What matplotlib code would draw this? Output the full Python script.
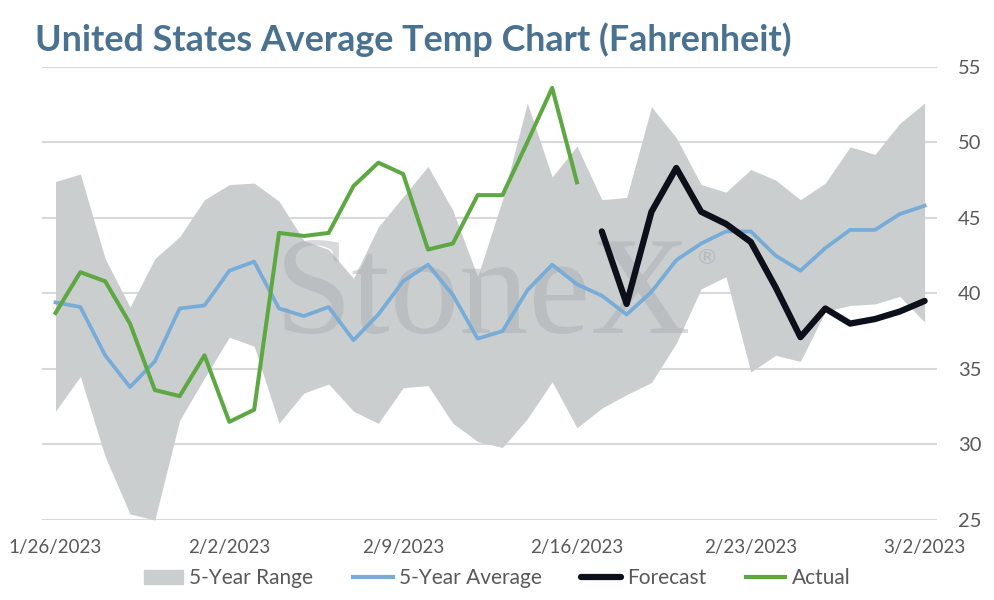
import numpy as np
import pandas as pd
import matplotlib
matplotlib.use("Agg")
import matplotlib.pyplot as plt
from matplotlib.patches import Patch
from matplotlib.lines import Line2D

# Daily series, 1/26/2023 .. 3/2/2023
dates = pd.date_range("2023-01-26", "2023-03-02", freq="D")
tick_labels = ["1/26/2023", "2/2/2023", "2/9/2023", "2/16/2023", "2/23/2023", "3/2/2023"]

range_high = [47.4, 47.9, 42.3, 39.1, 42.3, 43.75, 46.2, 47.2, 47.3, 46.1, 43.5, 42.9,
              41.0, 44.4, 46.4, 48.4, 45.5, 41.1, 46.2, 52.6, 47.7, 49.75, 46.2, 46.35,
              52.35, 50.3, 47.2, 46.7, 48.2, 47.5, 46.2, 47.3, 49.7, 49.2, 51.25, 52.6]
range_low = [32.2, 34.5, 29.2, 25.4, 25.0, 31.6, 34.4, 37.1, 36.5, 31.4, 33.4, 34.0,
             32.2, 31.4, 33.75, 33.9, 31.4, 30.2, 29.8, 31.7, 34.15, 31.1, 32.4, 33.3,
             34.1, 36.7, 40.3, 41.1, 34.8, 35.9, 35.5, 38.8, 39.2, 39.3, 39.8, 38.1]
avg_5yr = [39.4, 39.1, 35.9, 33.8, 35.5, 39.0, 39.2, 41.5, 42.1, 39.0, 38.5, 39.1,
           36.9, 38.6, 40.8, 41.9, 39.9, 37.0, 37.5, 40.2, 41.9, 40.6, 39.85, 38.6,
           40.1, 42.2, 43.3, 44.1, 44.1, 42.5, 41.5, 43.0, 44.2, 44.2, 45.25, 45.8]
actual = [38.7, 41.4, 40.8, 38.0, 33.6, 33.2, 35.9, 31.5, 32.3, 44.0, 43.8, 44.0,
          47.1, 48.65, 47.9, 42.9, 43.3, 46.5, 46.5, 50.0, 53.6, 47.35] + [np.nan] * 14
forecast = [np.nan] * 22 + [44.1, 39.3, 45.4, 48.3, 45.4, 44.6, 43.4, 40.4, 37.1,
                            39.0, 38.0, 38.3, 38.8, 39.5]

plt.rcParams['font.family'] = ['Lato', 'DejaVu Sans']

fig = plt.figure(figsize=(9.94, 6), dpi=100)
ax = fig.add_axes([0.0423, 0.1333, 0.9004, 0.7555])

ax.fill_between(dates, range_low, range_high, color="#cbcecf", linewidth=0, zorder=1)
ax.plot(dates, avg_5yr, color="#78acd8", lw=2.7, zorder=4)
ax.plot(dates, forecast, color="#0b101a", lw=4.5, zorder=5, solid_capstyle="round")
ax.plot(dates, actual, color="#5ea843", lw=2.9, zorder=4)

# watermark
ax.text(0.26, 0.412, "StoneX", transform=ax.transAxes, fontsize=100,
        family="Liberation Serif", color="#a9acae", alpha=0.45, zorder=3)
ax.text(0.73, 0.565, "®", transform=ax.transAxes, fontsize=16,
        family="DejaVu Sans", color="#a9acae", alpha=0.6, zorder=3)

ax.set_ylim(25, 55)
ax.set_yticks(range(25, 56, 5))
ax.set_xlim(dates[0] - pd.Timedelta(hours=13), dates[-1] + pd.Timedelta(hours=12))
ax.set_xticks(dates[::7])
ax.set_xticklabels(tick_labels)
ax.yaxis.tick_right()
ax.tick_params(axis="both", length=0, labelsize=13.5, colors="#595959")
ax.tick_params(axis="x", pad=14)
ax.tick_params(axis="y", pad=15)
for lab in ax.get_yticklabels():
    lab.set_fontsize(14.5)
ax.grid(axis="y", color="#d9d9d9", lw=1.5, zorder=0)
ax.set_axisbelow(True)
for s in ax.spines.values():
    s.set_visible(False)

fig.text(0.035, 0.915, "United States Average Temp Chart (Fahrenheit)", fontsize=25.8,
         fontweight="bold", color="#4a7190")

handles = [Patch(color="#cbcecf"),
           Line2D([], [], color="#78acd8", lw=3),
           Line2D([], [], color="#0b101a", lw=4.5, solid_capstyle="round"),
           Line2D([], [], color="#5ea843", lw=3)]
labels = ["5-Year Range", "5-Year Average", "Forecast", "Actual"]
fig.legend(handles, labels, loc="center", bbox_to_anchor=(0.5, 0.036), ncol=4,
           frameon=False, fontsize=15, handlelength=1.9, handletextpad=0.3,
           columnspacing=1.9, labelcolor="#595959")

fig.savefig("out.png", dpi=100)
